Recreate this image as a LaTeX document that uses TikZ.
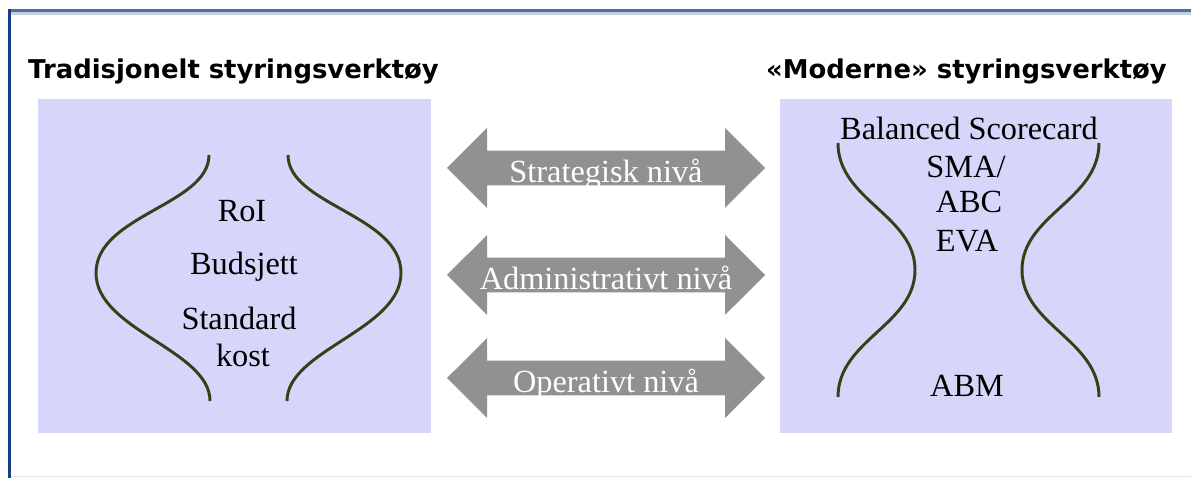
\documentclass[tikz,border=0pt]{standalone}
\usepackage{fontspec}
\setmainfont{Liberation Serif}
\newfontfamily\titlefont{DejaVu Sans}
\usetikzlibrary{shapes.arrows}

\definecolor{boxfill}{RGB}{214,214,250}
\definecolor{arrowgray}{RGB}{145,145,145}
\definecolor{curvecol}{RGB}{58,62,22}
\definecolor{frametop}{RGB}{80,110,165}
\definecolor{framelight}{RGB}{196,206,222}
\definecolor{frameleft}{RGB}{22,62,135}

\begin{document}
\begin{tikzpicture}[
    title/.style={font=\titlefont\bfseries\fontsize{18.4}{22}\selectfont, anchor=base, inner sep=0pt},
    tool/.style={font=\fontsize{23}{26}\selectfont, anchor=base, inner sep=0pt},
    level/.style={double arrow, fill=arrowgray, text=white, inner sep=0pt,
                  minimum height=7.95cm, minimum width=2cm,
                  double arrow head extend=0.475cm, double arrow tip angle=90,
                  text height=0.72cm, text depth=0cm,
                  font=\fontsize{23}{26}\selectfont},
    bracket/.style={curvecol, line width=2.1pt}
  ]
          \useasboundingbox (0,0) rectangle (29.775,11.95);

          % frame
          \draw[frametop, line width=2.2pt] (0.2,11.6875) -- (29.775,11.6875);
          \draw[framelight, line width=2.2pt] (0.275,11.6125) -- (29.775,11.6125);
          \draw[frameleft, line width=2.2pt] (0.2375,11.725) -- (0.2375,0);
          \draw[black!10, line width=0.7pt] (0.3,0.03) -- (29.775,0.03);

          % the two boxes
          \fill[boxfill] (0.95,1.125) rectangle (10.775,9.475);
          \fill[boxfill] (19.5,1.125) rectangle (29.3,9.475);

          \node[title] (tradtitle) at (5.8375,9.975) {Tradisjonelt styringsverktøy};
          \node[title] (modtitle) at (24.1625,9.975) {«Moderne» styringsverktøy};

          % traditional tools
          \draw[bracket] (5.225,8.075) .. controls (5.225,6.825) and (2.4,6.575) .. (2.4,5.125)
                         .. controls (2.4,3.7) and (5.25,3.2) .. (5.25,1.925);
          \draw[bracket] (7.2,8.075) .. controls (7.2,6.825) and (10.025,6.575) .. (10.025,5.125)
                         .. controls (10.025,3.7) and (7.175,3.2) .. (7.175,1.925);

          \node[tool] (roi) at (6.05,6.4) {RoI};
          \node[tool] (budsjett) at (6.1,5.09) {Budsjett};
          \node[tool] (standard) at (5.975,3.7) {Standard};
          \node[tool] (kost) at (6.075,2.78) {kost};

          % modern tools
          \draw[bracket] (20.95,8.375) .. controls (20.95,6.95) and (22.875,6.575) .. (22.875,5.2)
                         .. controls (22.875,3.825) and (20.95,3.45) .. (20.95,2.025);
          \draw[bracket] (27.475,8.375) .. controls (27.475,6.95) and (25.55,6.575) .. (25.55,5.2)
                         .. controls (25.55,3.825) and (27.475,3.45) .. (27.475,2.025);

          \node[tool] (bsc) at (24.225,8.45) {Balanced Scorecard};
          \node[tool] (sma) at (24.15,7.5) {SMA/};
          \node[tool] (abc) at (24.225,6.625) {ABC};
          \node[tool] (eva) at (24.175,5.65) {EVA};
          \node[tool] (abm) at (24.175,2.025) {ABM};

          % levels
          \node[level] (strategisk) at (15.15,7.75) {Strategisk nivå};
          \node[level] (administrativt) at (15.15,5.075) {Administrativt nivå};
          \node[level] (operativt) at (15.15,2.5) {Operativt nivå};
\end{tikzpicture}
\end{document}
